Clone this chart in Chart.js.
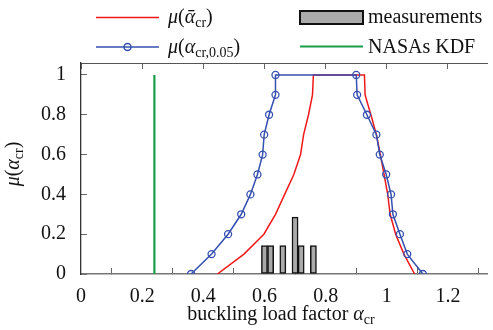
<!DOCTYPE html>
<html><head><meta charset="utf-8">
<script src="https://cdn.jsdelivr.net/npm/chart.js@4"></script>
<style>html,body{margin:0;padding:0;background:#fff}</style>
</head><body>
<canvas id="c" width="493" height="330"></canvas>
<script>
// ---- data ----
const membershipLevels = [0, 0.1, 0.2, 0.3, 0.4, 0.5, 0.6, 0.7, 0.8, 0.9, 1];
const meanLeft   = [0.446, 0.533, 0.598, 0.636, 0.666, 0.696, 0.718, 0.728, 0.744, 0.757, 0.760];
const meanRight  = [1.091, 1.056, 1.029, 1.011, 1.003, 0.991, 0.979, 0.966, 0.948, 0.929, 0.927];
const quantLeft  = [0.360, 0.427, 0.481, 0.524, 0.554, 0.577, 0.594, 0.599, 0.615, 0.636, 0.636];
const quantRight = [1.118, 1.067, 1.043, 1.020, 1.014, 0.998, 0.977, 0.966, 0.935, 0.903, 0.900];
const measurementBins = [0.60, 0.62, 0.66, 0.70, 0.72, 0.76];
const measurementFreq = [1/7, 1/7, 1/7, 2/7, 1/7, 1/7];
const kdfValue = 0.24;
const kdfLevels = [0, 1];
const xTickValues = [0, 0.2, 0.4, 0.6, 0.8, 1, 1.2];
const yTickValues = [0, 0.2, 0.4, 0.6, 0.8, 1];

function fuzzy(left, right) {
  const pts = membershipLevels.map((m, i) => ({x: left[i], y: m}));
  for (let i = membershipLevels.length - 1; i >= 0; i--) pts.push({x: right[i], y: membershipLevels[i]});
  return pts;
}

const RED = '#f01818', BLUE = '#3550b0', GREEN = '#1a9e48';
const SERIF = '"Liberation Serif", "DejaVu Serif", serif';
const FS = 20;
Chart.defaults.font.family = SERIF;
Chart.defaults.font.size = FS;
Chart.defaults.color = '#111';
function fnt(sz, it) { return (it ? 'italic ' : '') + sz + 'px ' + SERIF; }
function richWidth(ctx, parts, sz) {
  let w = 0;
  for (const p of parts) { ctx.font = fnt(p.sub ? sz * 0.7 : sz, p.it); w += ctx.measureText(p.t).width; }
  return w;
}
function drawRich(ctx, x, y, parts, sz) {
  ctx.textBaseline = 'alphabetic'; ctx.textAlign = 'left'; ctx.fillStyle = '#111';
  for (const p of parts) {
    const s = p.sub ? sz * 0.7 : sz;
    ctx.font = fnt(s, p.it);
    ctx.fillText(p.t, x, y + (p.sub ? sz * 0.22 : 0));
    x += ctx.measureText(p.t).width;
  }
}
const labMean = [{t:'μ',it:1},{t:'('},{t:'ᾱ',it:1},{t:'cr',sub:1},{t:')'}];
const labQuant = [{t:'μ',it:1},{t:'('},{t:'α',it:1},{t:'cr,0.05',sub:1},{t:')'}];
const labMeas = [{t:'measurements'}];
const labKdf = [{t:'NASAs KDF'}];
const xTitle = [{t:'buckling load factor '},{t:'α',it:1},{t:'cr',sub:1}];
const yTitle = [{t:'μ',it:1},{t:'('},{t:'α',it:1},{t:'cr',sub:1},{t:')'}];

const annotations = {
  id: 'annotations',
  afterDraw(chart) {
    const ctx = chart.ctx;
    ctx.save();
    // legend
    ctx.lineWidth = 1.5;
    ctx.strokeStyle = RED; ctx.beginPath(); ctx.moveTo(96, 17.5); ctx.lineTo(159, 17.5); ctx.stroke();
    drawRich(ctx, 168, 23, labMean, FS);
    ctx.strokeStyle = BLUE; ctx.beginPath(); ctx.moveTo(96, 47); ctx.lineTo(159, 47); ctx.stroke();
    ctx.beginPath(); ctx.arc(127.5, 47, 3.5, 0, Math.PI * 2); ctx.stroke();
    drawRich(ctx, 168, 52.5, labQuant, FS);
    ctx.fillStyle = '#aaaaaa'; ctx.fillRect(300, 11, 63, 13);
    ctx.strokeStyle = '#111'; ctx.lineWidth = 2; ctx.strokeRect(300, 11, 63, 13);
    drawRich(ctx, 368, 23, labMeas, FS);
    ctx.strokeStyle = GREEN; ctx.lineWidth = 2; ctx.beginPath(); ctx.moveTo(300, 46.5); ctx.lineTo(363, 46.5); ctx.stroke();
    drawRich(ctx, 368, 52.5, labKdf, FS);
    // axis titles
    const wx = richWidth(ctx, xTitle, FS);
    drawRich(ctx, 281 - wx / 2, 320, xTitle, FS);
    ctx.translate(19, 164); ctx.rotate(-Math.PI / 2);
    const wy = richWidth(ctx, yTitle, FS);
    drawRich(ctx, -wy / 2, 0, yTitle, FS);
    ctx.restore();
  }
};

const tickFmt = v => String(+(+v).toFixed(1));
const grid = {display: true, drawOnChartArea: false, drawTicks: true, tickLength: -6, tickColor: '#666', tickWidth: 1};
const tickFont = {family: SERIF, size: FS, style: 'normal', weight: 'normal'};

new Chart(document.getElementById('c'), {
  type: 'line',
  data: {
    datasets: [
      {type: 'line', label: 'μ(αcr,0.05)', data: fuzzy(quantLeft, quantRight), borderColor: BLUE, borderWidth: 1.5,
       pointRadius: 3.5, pointBorderWidth: 1.3, pointBorderColor: BLUE, pointBackgroundColor: 'rgba(0,0,0,0)', pointStyle: 'circle', order: 0, tension: 0},
      {type: 'line', label: 'μ(ᾱcr)', data: fuzzy(meanLeft, meanRight), borderColor: RED, borderWidth: 1.5, pointRadius: 0, order: 1, tension: 0},
      {type: 'line', label: 'NASAs KDF', data: kdfLevels.map(m => ({x: kdfValue, y: m})), borderColor: GREEN, borderWidth: 2.2, pointRadius: 0, order: 2},
      {type: 'bar', label: 'measurements', data: measurementBins.map((b, i) => ({x: b, y: measurementFreq[i]})),
       backgroundColor: '#aaaaaa', borderColor: '#111', borderWidth: 1.5, borderSkipped: false,
       barPercentage: 1, categoryPercentage: 1, order: 3}
    ]
  },
  options: {
    responsive: false, animation: false, devicePixelRatio: 1,
    layout: {padding: {top: 63, left: 0, right: 0, bottom: 0}},
    plugins: {legend: {display: false}, tooltip: {enabled: false}},
    scales: {
      x: {type: 'linear', position: 'bottom', min: 0, max: 1.33, offset: false,
          afterFit: s => { s.height = 56; },
          afterBuildTicks: s => { s.ticks = xTickValues.map(v => ({value: v})); },
          ticks: {stepSize: 0.2, includeBounds: false, padding: 17, color: '#111', font: tickFont, callback: tickFmt, maxRotation: 0},
          grid: grid, border: {display: true, color: '#777', width: 1.5}},
      x2: {type: 'linear', position: 'top', min: 0, max: 1.33, offset: false,
          afterFit: s => { s.height = 0; },
          afterBuildTicks: s => { s.ticks = xTickValues.map(v => ({value: v})); },
          ticks: {display: false, stepSize: 0.2, includeBounds: false},
          grid: grid, border: {display: true, color: '#555', width: 1}},
      y: {type: 'linear', position: 'left', min: 0, max: 1.06,
          afterFit: s => { s.width = 81; },
          afterBuildTicks: s => { s.ticks = yTickValues.map(v => ({value: v})); },
          ticks: {stepSize: 0.2, includeBounds: false, padding: 21, color: '#111', font: tickFont, callback: tickFmt},
          grid: grid, border: {display: true, color: '#333', width: 1.3}}
    }
  },
  plugins: [annotations]
});
</script>
</body></html>
